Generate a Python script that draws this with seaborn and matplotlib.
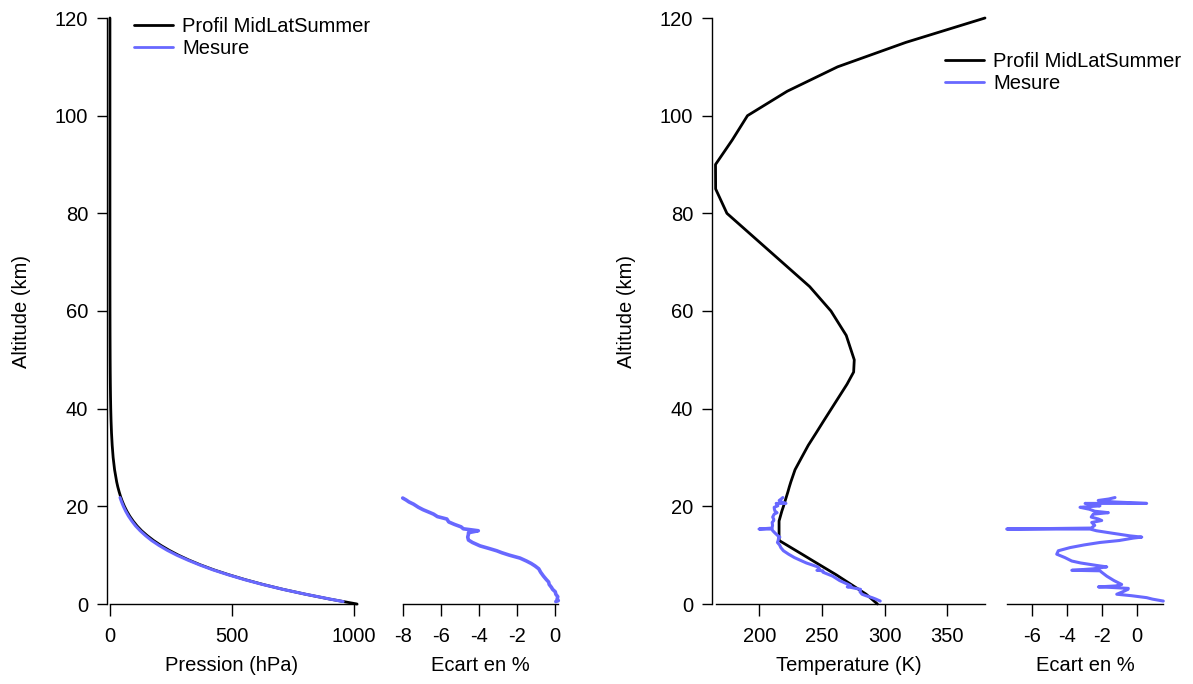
import matplotlib
matplotlib.use("Agg")
import matplotlib.pyplot as plt
import seaborn as sns
import pandas as pd

# --- Reference profile (MidLatSummer) ---
alt_prof = [0, 1, 2, 3, 4, 5, 6, 7, 8, 9, 10, 11, 12, 13, 14, 15, 16, 17, 18, 19, 20,
            21, 22, 23, 24, 25, 27.5, 30, 32.5, 35, 37.5, 40, 42.5, 45, 47.5, 50, 55,
            60, 65, 70, 75, 80, 85, 90, 95, 100, 105, 110, 115, 120]
T_prof = [294.2, 289.7, 285.2, 279.2, 273.2, 267.2, 261.2, 254.7, 248.2, 241.7, 235.3,
          228.8, 222.3, 215.8, 215.7, 215.7, 215.7, 215.7, 216.8, 217.9, 219.2, 220.4,
          221.6, 222.8, 223.9, 225.1, 228.45, 233.7, 239.0, 245.2, 251.3, 257.5, 263.7,
          269.9, 275.2, 275.7, 269.3, 257.1, 240.1, 218.1, 196.1, 174.1, 165.1, 165.0,
          178.3, 190.5, 222.2, 262.4, 316.8, 380.0]
P_prof = [1013, 902, 802, 710, 628, 554, 487, 426, 372, 324, 281, 243, 209, 179, 153,
          130, 111, 95, 81.2, 69.5, 59.5, 51, 43.7, 37.6, 32.2, 27.7, 19.07, 13.2, 9.3,
          6.52, 4.64, 3.33, 2.41, 1.76, 1.29, 0.951, 0.515, 0.272, 0.139, 0.067, 0.03,
          0.012, 0.0045, 0.0016, 0.00055, 0.0002, 7e-5, 3e-5, 1.3e-5, 6e-6]

# --- Measured pressure ---
alt_P_mes = [0.5, 1, 2, 3, 4, 5, 6, 7, 8, 9, 10, 11, 12, 13, 14, 15, 16, 17, 18, 19,
             20, 21, 21.8]
P_mes = [956, 903, 802, 709, 626, 551, 484, 422, 368, 319, 274, 235, 201, 171, 146,
         124, 105, 89.7, 76.1, 64.8, 55.2, 47.1, 41.4]

# --- Pressure deviation (%) ---
alt_ecart_P = [0.5, 0.7, 1.0, 1.5, 2.0, 2.5, 3.0, 3.4, 4.0, 4.5, 5.0, 5.7, 6.5, 7.2,
               7.8, 8.3, 8.8, 9.4, 10.0, 10.5, 10.9, 11.4, 11.9, 12.2, 12.6, 13.1, 13.7,
               14.3, 14.6, 14.8, 15.0, 15.4, 15.8, 16.3, 16.8, 17.4, 17.9, 18.4, 18.7,
               19.3, 19.8, 20.45, 20.9, 21.3, 21.7]
ecart_P = [0.05, 0.18, 0.12, 0.15, 0.05, 0.02, -0.12, -0.18, -0.3, -0.33, -0.45, -0.6,
           -0.75, -0.85, -1.05, -1.25, -1.5, -1.84, -2.4, -2.8, -3.07, -3.5, -3.95, -4.12,
           -4.35, -4.56, -4.6, -4.56, -4.56, -4.3, -4.04, -4.83, -4.95, -5.3, -5.6, -5.7,
           -6.2, -6.4, -6.58, -6.95, -7.2, -7.46, -7.7, -7.85, -8.03]

# --- Measured temperature and deviation (%) ---
alt_T_mes = [0.6, 1.0, 1.3, 1.7, 2.0, 2.5, 3.0, 3.2, 3.4, 3.5, 3.7, 4.0, 4.8, 5.7, 6.5,
             6.8, 6.9, 7.2, 7.6, 7.9, 8.4, 8.8, 9.5, 10.2, 10.9, 11.55, 12.1, 12.6, 13.0,
             13.5, 13.7, 13.95, 14.5, 15.0, 15.35, 15.35, 15.55, 16.1, 16.7, 17.1, 17.4,
             17.8, 18.4, 18.7, 19.0, 19.4, 19.8, 20.1, 20.4, 20.6, 20.6, 20.9, 21.2, 21.5,
             21.8]
T_mes = [296.4, 292.9, 289.9, 285.0, 281.9, 280.3, 280.7, 276.7, 273.0, 270.1, 273.0,
         270.9, 264.0, 258.5, 250.8, 250.6, 245.9, 248.0, 246.5, 243.2, 237.5, 234.0,
         228.0, 223.3, 219.2, 217.1, 216.1, 214.4, 215.0, 215.3, 216.3, 214.9, 212.6,
         210.7, 209.9, 199.7, 210.1, 210.5, 210.2, 211.5, 211.4, 210.6, 211.8, 214.1,
         212.5, 212.0, 211.8, 214.7, 213.8, 213.4, 221.2, 217.5, 215.8, 217.4, 218.7]
ecart_T = [1.52, 0.9, 0.57, -0.3, -1.14, -0.8, -0.5, -0.48, -1.5, -2.19, -1.2, -0.86,
           -1.3, -1.71, -2.0, -2.1, -3.71, -2.5, -1.71, -2.3, -3.2, -3.71, -4.1, -4.57,
           -4.48, -3.81, -3.0, -2.1, -1.0, -0.19, 0.29, -0.38, -1.4, -2.3, -2.67, -7.43,
           -2.6, -2.4, -2.57, -2.0, -2.19, -2.6, -2.48, -1.62, -2.4, -2.7, -3.24, -2.1,
           -2.6, -2.95, 0.57, -1.3, -2.2, -1.6, -1.24]

BLACK = "#000000"
BLUE = "#6868ff"
FS = 14.5

sns.set_theme(style="ticks")
plt.rcParams["font.family"] = ["Liberation Sans", "DejaVu Sans"]
plt.rcParams.update({
    "axes.unicode_minus": False,
    "axes.linewidth": 1.0,
    "xtick.major.size": 8.5, "ytick.major.size": 7.5,
    "xtick.major.width": 1.0, "ytick.major.width": 1.0,
    "xtick.major.pad": 8, "ytick.major.pad": 6,
    "xtick.labelsize": FS, "ytick.labelsize": FS,
    "axes.labelsize": FS,
    "xtick.color": "black", "ytick.color": "black",
    "axes.edgecolor": "black", "text.color": "black", "axes.labelcolor": "black",
})

W, H = 1193, 684
fig = plt.figure(figsize=(W / 100, H / 100), dpi=100)

def rect(left, right, top=18, bottom=604):
    return [left / W, (H - bottom) / H, (right - left) / W, (bottom - top) / H]

ax1 = fig.add_axes(rect(107, 357))
ax2 = fig.add_axes(rect(402.7, 558.3))
ax3 = fig.add_axes(rect(712, 985))
ax4 = fig.add_axes(rect(1006.7, 1163.3))

df_prof = pd.DataFrame({"alt": alt_prof, "T": T_prof, "P": P_prof})
df_Pm = pd.DataFrame({"alt": alt_P_mes, "P": P_mes})
df_eP = pd.DataFrame({"alt": alt_ecart_P, "e": ecart_P})
df_Tm = pd.DataFrame({"alt": alt_T_mes, "T": T_mes, "e": ecart_T})

LW_K = 2.0
LW_B = 2.2

# Pressure panel
sns.lineplot(data=df_prof, x="P", y="alt", sort=False, estimator=None, ax=ax1,
             color=BLACK, lw=LW_K, label="Profil MidLatSummer")
sns.lineplot(data=df_Pm, x="P", y="alt", sort=False, estimator=None, ax=ax1,
             color=BLUE, lw=LW_B, label="Mesure")
ax1.set_xlim(-12, 1013)
ax1.set_xticks([0, 500, 1000])
ax1.spines["bottom"].set_bounds(0, 1013)

# Pressure deviation
sns.lineplot(data=df_eP, x="e", y="alt", sort=False, estimator=None, ax=ax2,
             color=BLUE, lw=2.6)
ax2.set_xlim(-8.03, 0.18)
ax2.set_xticks([-8, -6, -4, -2, 0])

# Temperature panel
sns.lineplot(data=df_prof, x="T", y="alt", sort=False, estimator=None, ax=ax3,
             color=BLACK, lw=LW_K, label="Profil MidLatSummer")
sns.lineplot(data=df_Tm, x="T", y="alt", sort=False, estimator=None, ax=ax3,
             color=BLUE, lw=LW_B, label="Mesure")
ax3.set_xlim(162.2, 380)
ax3.set_xticks([200, 250, 300, 350])
ax3.spines["bottom"].set_bounds(165, 380)

# Temperature deviation
sns.lineplot(data=df_Tm, x="e", y="alt", sort=False, estimator=None, ax=ax4,
             color=BLUE, lw=LW_B)
ax4.set_xlim(-7.43, 1.52)
ax4.set_xticks([-6, -4, -2, 0])

for ax in (ax1, ax2, ax3, ax4):
    ax.set_ylim(0, 120)
    ax.set_facecolor("none")
    for s in ("top", "right"):
        ax.spines[s].set_visible(False)
    for ln in ax.lines:
        ln.set_clip_on(False)
    ax.set_ylabel("")

for ax in (ax1, ax3):
    ax.set_yticks([0, 20, 40, 60, 80, 100, 120])
    ax.set_ylabel("Altitude (km)", labelpad=17)

for ax in (ax2, ax4):
    ax.spines["left"].set_visible(False)
    ax.tick_params(axis="y", left=False, labelleft=False)
    ax.set_xlabel("Ecart en %", labelpad=7)

ax1.set_xlabel("Pression (hPa)", labelpad=7)
ax3.set_xlabel("Temperature (K)", labelpad=7)

leg_kw = dict(frameon=False, fontsize=FS, handlelength=1.95, handletextpad=0.45,
              labelspacing=0.15, borderpad=0, borderaxespad=0, loc="upper left")
ax1.legend(bbox_to_anchor=(134 / W, 1 - 17 / H), bbox_transform=fig.transFigure, **leg_kw)
ax3.legend(bbox_to_anchor=(945 / W, 1 - 52 / H), bbox_transform=fig.transFigure, **leg_kw)
for leg in (ax1.get_legend(), ax3.get_legend()):
    for h in leg.get_lines():
        h.set_linewidth(2.0)

fig.savefig("out.png", dpi=100)
